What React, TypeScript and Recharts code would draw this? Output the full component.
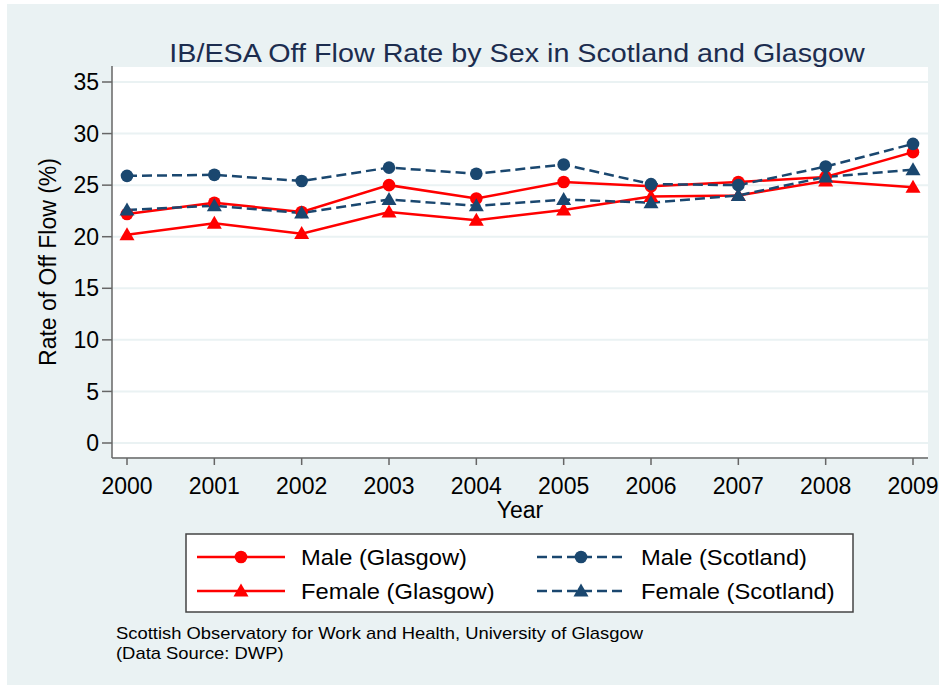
import { LineChart, Line, XAxis, YAxis, CartesianGrid } from 'recharts'

const years = [2000, 2001, 2002, 2003, 2004, 2005, 2006, 2007, 2008, 2009]
const maleGlasgow = [22.2, 23.3, 22.4, 25.0, 23.7, 25.3, 24.9, 25.3, 25.8, 28.2]
const femaleGlasgow = [20.2, 21.3, 20.3, 22.4, 21.6, 22.6, 23.9, 24.0, 25.4, 24.8]
const maleScotland = [25.9, 26.0, 25.4, 26.7, 26.1, 27.0, 25.1, 25.0, 26.8, 29.0]
const femaleScotland = [22.6, 23.0, 22.3, 23.6, 23.0, 23.6, 23.3, 24.0, 25.8, 26.5]
const yTicks = [0, 5, 10, 15, 20, 25, 30, 35]

const data = years.map((year, i) => ({
  year,
  maleGlasgow: maleGlasgow[i],
  femaleGlasgow: femaleGlasgow[i],
  maleScotland: maleScotland[i],
  femaleScotland: femaleScotland[i],
}))

const RED = '#FF0000'
const NAVY = '#1A476F'
const BG = '#EAF2F3'
const AXIS = '#666666'
const FONT = '"Liberation Sans", Arial, sans-serif'

type Series = { key: string; name: string; color: string; dashed: boolean; shape: 'circle' | 'triangle' }

const series: Series[] = [
  { key: 'maleGlasgow', name: 'Male (Glasgow)', color: RED, dashed: false, shape: 'circle' },
  { key: 'femaleGlasgow', name: 'Female (Glasgow)', color: RED, dashed: false, shape: 'triangle' },
  { key: 'maleScotland', name: 'Male (Scotland)', color: NAVY, dashed: true, shape: 'circle' },
  { key: 'femaleScotland', name: 'Female (Scotland)', color: NAVY, dashed: true, shape: 'triangle' },
]

function Marker({ cx, cy, color, shape }: { cx: number; cy: number; color: string; shape: string }) {
  if (shape === 'triangle') {
    return <path d={`M${cx},${cy - 7.5} L${cx + 7.5},${cy + 5.5} L${cx - 7.5},${cy + 5.5} Z`} fill={color} />
  }
  return <circle cx={cx} cy={cy} r={6.3} fill={color} />
}

function makeDot(s: Series) {
  return (props: any) => {
    const { cx, cy, index } = props
    if (cx == null || cy == null) return <g key={`${s.key}-${index}`} />
    return (
      <g key={`${s.key}-${index}`}>
        <Marker cx={cx} cy={cy} color={s.color} shape={s.shape} />
      </g>
    )
  }
}

// stata text comes out a bit wider than Liberation Sans, stretch it horizontally
function WideText({ x, y, size, sx, anchor, fill, children }: any) {
  return (
    <g transform={`translate(${x} ${y}) scale(${sx} 1)`}>
      <text x={0} y={0} textAnchor={anchor || 'start'} fontSize={size} fill={fill || '#000'} fontFamily={FONT}>
        {children}
      </text>
    </g>
  )
}

// legend order: reading across rows
const legendRows = [
  [series[0], series[2]],
  [series[1], series[3]],
]

function Overlay() {
  return (
    <svg width={939} height={686} style={{ position: 'absolute', left: 0, top: 0, pointerEvents: 'none' }}>
      <WideText x={517} y={62} size={26.5} sx={1.084} anchor="middle" fill="#1C2D4F">
        IB/ESA Off Flow Rate by Sex in Scotland and Glasgow
      </WideText>

      <rect x={186} y={534} width={667} height={78} fill="#fff" stroke="#444" strokeWidth={1.5} />
      {legendRows.map((row, r) =>
        row.map((s, c) => {
          const y = 557 + r * 34
          const x0 = c === 0 ? 197 : 537
          return (
            <g key={s.key}>
              <line
                x1={x0}
                x2={x0 + 88}
                y1={y}
                y2={y}
                stroke={s.color}
                strokeWidth={2.5}
                strokeDasharray={s.dashed ? '10 5' : undefined}
              />
              <Marker cx={x0 + 44} cy={y} color={s.color} shape={s.shape} />
              <WideText x={x0 + 104} y={y + 8} size={22} sx={1.078}>
                {s.name}
              </WideText>
            </g>
          )
        })
      )}

      <WideText x={116} y={639} size={17} sx={1.082}>
        Scottish Observatory for Work and Health, University of Glasgow
      </WideText>
      <WideText x={116} y={659} size={17} sx={1.082}>
        (Data Source: DWP)
      </WideText>
    </svg>
  )
}

export default function App() {
  return (
    <div style={{ position: 'absolute', left: 0, top: 0, width: 939, height: 686, background: '#fff', fontFamily: FONT }}>
      <div style={{ position: 'absolute', left: 7, top: 4, width: 932, height: 681, background: BG }} />
      <div style={{ position: 'absolute', left: 0, top: 0 }}>
        <LineChart width={939} height={686} data={data} margin={{ top: 66, right: 11, bottom: 166, left: 52 }}>
          <CartesianGrid vertical={false} stroke={BG} strokeWidth={2} fill="#fff" />
          <XAxis
            dataKey="year"
            type="number"
            domain={[2000, 2009]}
            ticks={years}
            padding={{ left: 15, right: 15 }}
            height={62}
            axisLine={{ stroke: AXIS, strokeWidth: 1.5 }}
            tickLine={{ stroke: AXIS, strokeWidth: 1.5 }}
            tickSize={7}
            tickMargin={13}
            tick={{ fontSize: 23, fill: '#000', fontFamily: FONT }}
            label={{ value: 'Year', position: 'insideBottom', offset: 2, fontSize: 23, fill: '#000', fontFamily: FONT }}
          />
          <YAxis
            type="number"
            domain={[0, 35]}
            ticks={yTicks}
            padding={{ top: 16, bottom: 15 }}
            width={60}
            axisLine={{ stroke: AXIS, strokeWidth: 1.5 }}
            tickLine={{ stroke: AXIS, strokeWidth: 1.5 }}
            tickSize={10}
            tickMargin={3}
            tick={{ fontSize: 23, fill: '#000', fontFamily: FONT }}
            label={{
              content: () => (
                <text
                  x={56}
                  y={262}
                  transform="rotate(-90 56 262)"
                  textAnchor="middle"
                  fontSize={23}
                  fill="#000"
                  fontFamily={FONT}
                >
                  Rate of Off Flow (%)
                </text>
              ),
            }}
          />
          {series.map((s) => (
            <Line
              key={s.key}
              dataKey={s.key}
              name={s.name}
              type="linear"
              stroke={s.color}
              strokeWidth={2.5}
              strokeDasharray={s.dashed ? '10 5' : undefined}
              dot={makeDot(s)}
              activeDot={false}
              isAnimationActive={false}
            />
          ))}
        </LineChart>
      </div>
      <Overlay />
    </div>
  )
}
